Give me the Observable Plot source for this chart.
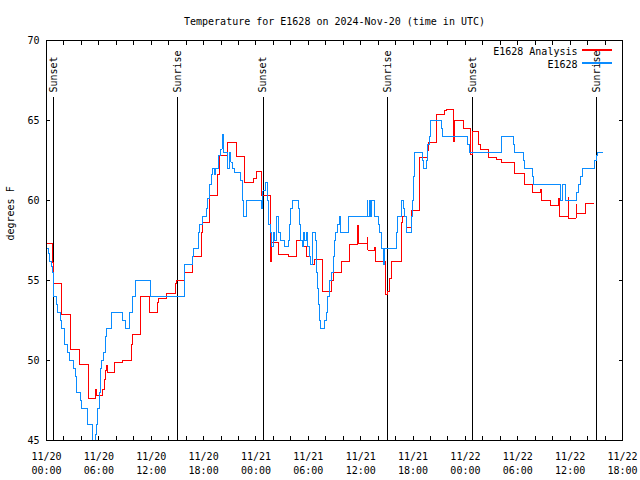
<!DOCTYPE html>
<html><head><meta charset="utf-8">
<script src="https://cdn.jsdelivr.net/npm/d3@7"></script>
<script src="https://cdn.jsdelivr.net/npm/@observablehq/plot@0.6"></script>
<style>
html,body{margin:0;padding:0;background:#fff;color:#000;}
svg{display:block;}
svg path, svg line, svg rect{shape-rendering:crispEdges;}
</style></head><body><div id="chart"></div>
<script>
const title = "Temperature for E1628 on 2024-Nov-20 (time in UTC)";
const yLabel = "degrees F";
const seriesNames = ["E1628 Analysis", "E1628"];
const seriesColors = ["#ff0000", "#0a8cff"];

const analysisTimes = ["11-20 00:00","11-20 00:43","11-20 00:48","11-20 01:45","11-20 02:43","11-20 02:47","11-20 03:45","11-20 03:49","11-20 04:47","11-20 05:35","11-20 05:41","11-20 06:28","11-20 06:39","11-20 06:48","11-20 06:53","11-20 06:58","11-20 07:46","11-20 08:43","11-20 09:43","11-20 09:52","11-20 10:43","11-20 11:45","11-20 11:51","11-20 12:40","11-20 12:47","11-20 13:46","11-20 14:46","11-20 14:55","11-20 15:46","11-20 16:43","11-20 17:45","11-20 17:54","11-20 18:41","11-20 19:36","11-20 19:49","11-20 20:45","11-20 21:46","11-20 22:39","11-20 23:44","11-21 00:06","11-21 00:36","11-21 00:41","11-21 01:38","11-21 01:48","11-21 02:38","11-21 03:42","11-21 04:42","11-21 05:18","11-21 05:46","11-21 06:18","11-21 06:41","11-21 07:36","11-21 08:41","11-21 08:50","11-21 09:45","11-21 10:45","11-21 11:40","11-21 11:44","11-21 12:44","11-21 12:49","11-21 13:34","11-21 13:44","11-21 14:48","11-21 15:06","11-21 15:17","11-21 15:34","11-21 16:38","11-21 16:45","11-21 17:15","11-21 17:52","11-21 18:44","11-21 19:37","11-21 19:46","11-21 20:44","11-21 21:36","11-21 21:50","11-21 22:38","11-21 22:45","11-21 23:45","11-22 00:35","11-22 00:49","11-22 01:30","11-22 01:44","11-22 02:39","11-22 03:32","11-22 04:07","11-22 05:38","11-22 06:43","11-22 07:42","11-22 08:33","11-22 08:42","11-22 09:42","11-22 10:41","11-22 10:46","11-22 11:46","11-22 11:50","11-22 12:41","11-22 12:45","11-22 13:45","11-22 14:38"];
const analysisTemps = [57.3,56.1,54.8,52.9,51.8,50.7,50.25,49.75,47.6,48.2,47.8,48.2,48.8,49.4,49.67,49.25,49.9,50.0,51.0,51.6,54.0,53.4,53.0,53.6,53.85,54.2,54.8,55.0,55.5,56.5,58.0,58.6,60.3,61.6,62.8,63.6,62.75,61.1,61.4,61.8,60.5,60.3,56.2,57.4,56.6,56.5,57.5,57.1,56.5,56.0,56.3,54.3,55.0,55.5,56.2,57.25,58.46,57.3,57.67,56.9,57.08,56.2,54.1,54.3,55.1,56.2,58.6,59.0,58.3,59.4,62.7,63.1,63.6,65.4,65.6,65.7,63.7,65.0,64.5,62.9,64.3,63.5,63.2,62.7,62.55,62.4,61.7,61.0,60.5,60.7,60.0,59.7,60.1,59.0,60.2,58.9,59.75,59.2,59.8,59.8];

const obsTimes = ["11-20 00:00","11-20 00:14","11-20 00:23","11-20 00:32","11-20 00:41","11-20 00:46","11-20 00:50","11-20 01:09","11-20 01:18","11-20 01:36","11-20 01:45","11-20 02:04","11-20 02:07","11-20 02:27","11-20 02:40","11-20 03:08","11-20 03:18","11-20 03:27","11-20 03:54","11-20 04:03","11-20 04:44","11-20 05:19","11-20 05:40","11-20 05:44","11-20 05:53","11-20 06:03","11-20 06:12","11-20 06:21","11-20 06:35","11-20 06:44","11-20 06:53","11-20 07:30","11-20 08:43","11-20 09:02","11-20 09:34","11-20 09:52","11-20 10:15","11-20 11:56","11-20 15:46","11-20 16:45","11-20 16:50","11-20 17:22","11-20 17:32","11-20 17:54","11-20 18:17","11-20 18:27","11-20 18:41","11-20 18:54","11-20 19:03","11-20 19:12","11-20 19:22","11-20 19:40","11-20 19:58","11-20 20:07","11-20 20:17","11-20 20:45","11-20 20:58","11-20 21:07","11-20 21:16","11-20 21:30","11-20 22:11","11-20 22:25","11-20 22:35","11-20 22:57","11-21 00:39","11-21 00:48","11-21 01:06","11-21 01:20","11-21 01:29","11-21 01:38","11-21 01:48","11-21 02:01","11-21 02:10","11-21 02:19","11-21 02:24","11-21 02:38","11-21 02:52","11-21 03:19","11-21 03:42","11-21 03:51","11-21 04:00","11-21 04:09","11-21 04:51","11-21 05:00","11-21 05:09","11-21 05:18","11-21 05:28","11-21 05:37","11-21 05:46","11-21 05:55","11-21 06:09","11-21 06:18","11-21 06:32","11-21 06:50","11-21 06:55","11-21 07:04","11-21 07:13","11-21 07:18","11-21 07:22","11-21 07:50","11-21 08:04","11-21 08:13","11-21 08:27","11-21 08:41","11-21 08:50","11-21 08:59","11-21 09:08","11-21 09:22","11-21 09:31","11-21 09:40","11-21 10:35","11-21 12:44","11-21 12:49","11-21 13:02","11-21 13:07","11-21 13:11","11-21 13:34","11-21 14:02","11-21 14:11","11-21 14:20","11-21 14:25","11-21 14:34","11-21 14:43","11-21 16:06","11-21 16:15","11-21 16:38","11-21 16:52","11-21 17:01","11-21 17:14","11-21 17:47","11-21 17:56","11-21 18:05","11-21 18:10","11-21 19:05","11-21 19:14","11-21 19:32","11-21 19:42","11-21 19:51","11-21 20:00","11-21 21:13","11-21 21:22","11-22 00:17","11-22 00:26","11-22 04:11","11-22 05:34","11-22 05:38","11-22 06:38","11-22 06:43","11-22 07:38","11-22 07:47","11-22 10:55","11-22 11:09","11-22 11:27","11-22 12:45","11-22 12:55","11-22 13:09","11-22 13:22","11-22 14:49","11-22 14:59","11-22 15:08","11-22 15:44"];
const obsTemps = [57.0,56.7,56.2,55.9,55.5,55.0,54.0,53.5,53.0,52.5,52.0,51.5,51.0,50.5,50.0,49.5,49.0,48.0,47.5,47.0,46.0,44.5,45.4,46.0,47.0,48.0,49.5,50.0,50.5,51.5,52.0,53.0,52.5,52.0,53.0,54.0,55.0,54.0,56.0,56.5,57.0,58.0,58.5,59.0,59.5,60.1,61.0,61.6,62.0,61.6,62.0,62.8,63.2,64.1,63.0,62.0,63.0,62.4,62.0,61.75,61.25,60.0,59.0,60.0,59.5,60.6,61.1,60.0,58.5,58.0,57.1,58.0,57.5,58.5,59.0,58.0,57.5,57.1,57.5,58.5,59.5,60.0,59.5,58.5,57.5,57.1,58.0,57.5,58.0,57.1,56.5,56.0,58.0,57.5,55.5,54.5,53.5,52.5,52.0,52.5,53.0,54.0,55.0,55.5,56.5,57.5,58.0,58.5,59.0,58.0,59.0,60.0,59.0,60.0,59.0,60.0,59.0,58.5,58.0,57.5,57.0,56.0,57.0,58.0,59.0,60.0,59.5,59.0,58.0,59.0,60.0,61.5,63.0,62.5,62.0,62.5,63.5,64.0,65.0,64.5,64.0,63.5,63.0,64.0,63.5,63.0,62.5,62.0,61.5,61.0,60.0,61.0,60.0,60.5,61.0,61.5,62.0,62.5,62.8,63.0,63.0];

const sunEventTimes = ["11-20 00:50","11-20 15:04","11-21 00:50","11-21 15:04","11-22 00:49","11-22 15:03"];
const sunEventLabels = ["Sunset","Sunrise","Sunset","Sunrise","Sunset","Sunrise"];
const xDomain = ["11-20 00:00", "11-22 18:00"];
const xLabelTimes = ["11-20 00:00","11-20 06:00","11-20 12:00","11-20 18:00","11-21 00:00","11-21 06:00","11-21 12:00","11-21 18:00","11-22 00:00","11-22 06:00","11-22 12:00","11-22 18:00"];
const yTicks = [45, 50, 55, 60, 65, 70];

const P = s => new Date(`2024-${s.replace(" ", "T")}:00Z`);
const analysis = analysisTimes.map((t, i) => ({time: P(t), temp: analysisTemps[i]}));
const obs = obsTimes.map((t, i) => ({time: P(t), temp: obsTemps[i]}));
const sun = sunEventTimes.map((t, i) => ({time: P(t), label: sunEventLabels[i]}));
const xLabels = xLabelTimes.map(P);
const minorTicks = d3.utcHour.every(2).range(P(xDomain[0]), new Date(+P(xDomain[1]) + 1));
const fmtTick = d => `${d3.utcFormat("%m/%d")(d)}\n${d3.utcFormat("%H:%M")(d)}`;
const lineShape = {draw(ctx, l) { ctx.moveTo(0, 0); ctx.lineTo(0, -l); }};

const chart = Plot.plot({
  width: 640, height: 480,
  marginLeft: 46, marginRight: 18, marginTop: 40, marginBottom: 40,
  style: {fontFamily: "'DejaVu Sans Mono', monospace", fontSize: "10px", background: "#fff", color: "#000", overflow: "visible"},
  x: {type: "utc", domain: xDomain.map(P)},
  y: {domain: [45, 70]},
  marks: [
    Plot.ruleX(sun, {x: "time", insetTop: 57, stroke: "#000", strokeWidth: 1}),
    Plot.text(sun, {x: "time", text: "label", frameAnchor: "top", dy: 52, rotate: -90, textAnchor: "start", lineAnchor: "middle", fill: "#000"}),
    Plot.line(analysis, {x: "time", y: "temp", curve: "step-after", stroke: seriesColors[0], strokeWidth: 1, clip: true}),
    Plot.line(obs, {x: "time", y: "temp", curve: "step-after", stroke: seriesColors[1], strokeWidth: 1, clip: true}),
    Plot.frame({stroke: "#000"}),
    Plot.axisX(minorTicks, {anchor: "bottom", tickSize: -4, tickFormat: () => "", label: null}),
    Plot.axisX(minorTicks, {anchor: "top", tickSize: -4, tickFormat: () => "", label: null}),
    Plot.axisX(xLabels, {anchor: "bottom", tickSize: 0, tickPadding: 10, tickFormat: fmtTick, lineHeight: 1.35, label: null}),
    Plot.axisY(yTicks, {anchor: "left", tickSize: -4, tickPadding: 11, label: null}),
    Plot.axisY(yTicks, {anchor: "right", tickSize: -4, tickFormat: () => "", label: null}),
    Plot.text([title], {frameAnchor: "top", dy: -23, fill: "#000"}),
    Plot.text([yLabel], {frameAnchor: "left", dx: -36, rotate: -90, fill: "#000"}),
    Plot.text([seriesNames[0]], {frameAnchor: "top-right", dx: -45, dy: 7.5, textAnchor: "end", fill: "#000"}),
    Plot.text([seriesNames[1]], {frameAnchor: "top-right", dx: -45, dy: 20.5, textAnchor: "end", fill: "#000"}),
    Plot.vector([0], {frameAnchor: "top-right", dx: -11, dy: 9.5, rotate: 90, length: 29, anchor: "end", stroke: seriesColors[0], shape: lineShape}),
    Plot.vector([0], {frameAnchor: "top-right", dx: -11, dy: 22.5, rotate: 90, length: 29, anchor: "end", stroke: seriesColors[1], shape: lineShape})
  ]
});
document.getElementById("chart").appendChild(chart);
</script>
</body></html>
